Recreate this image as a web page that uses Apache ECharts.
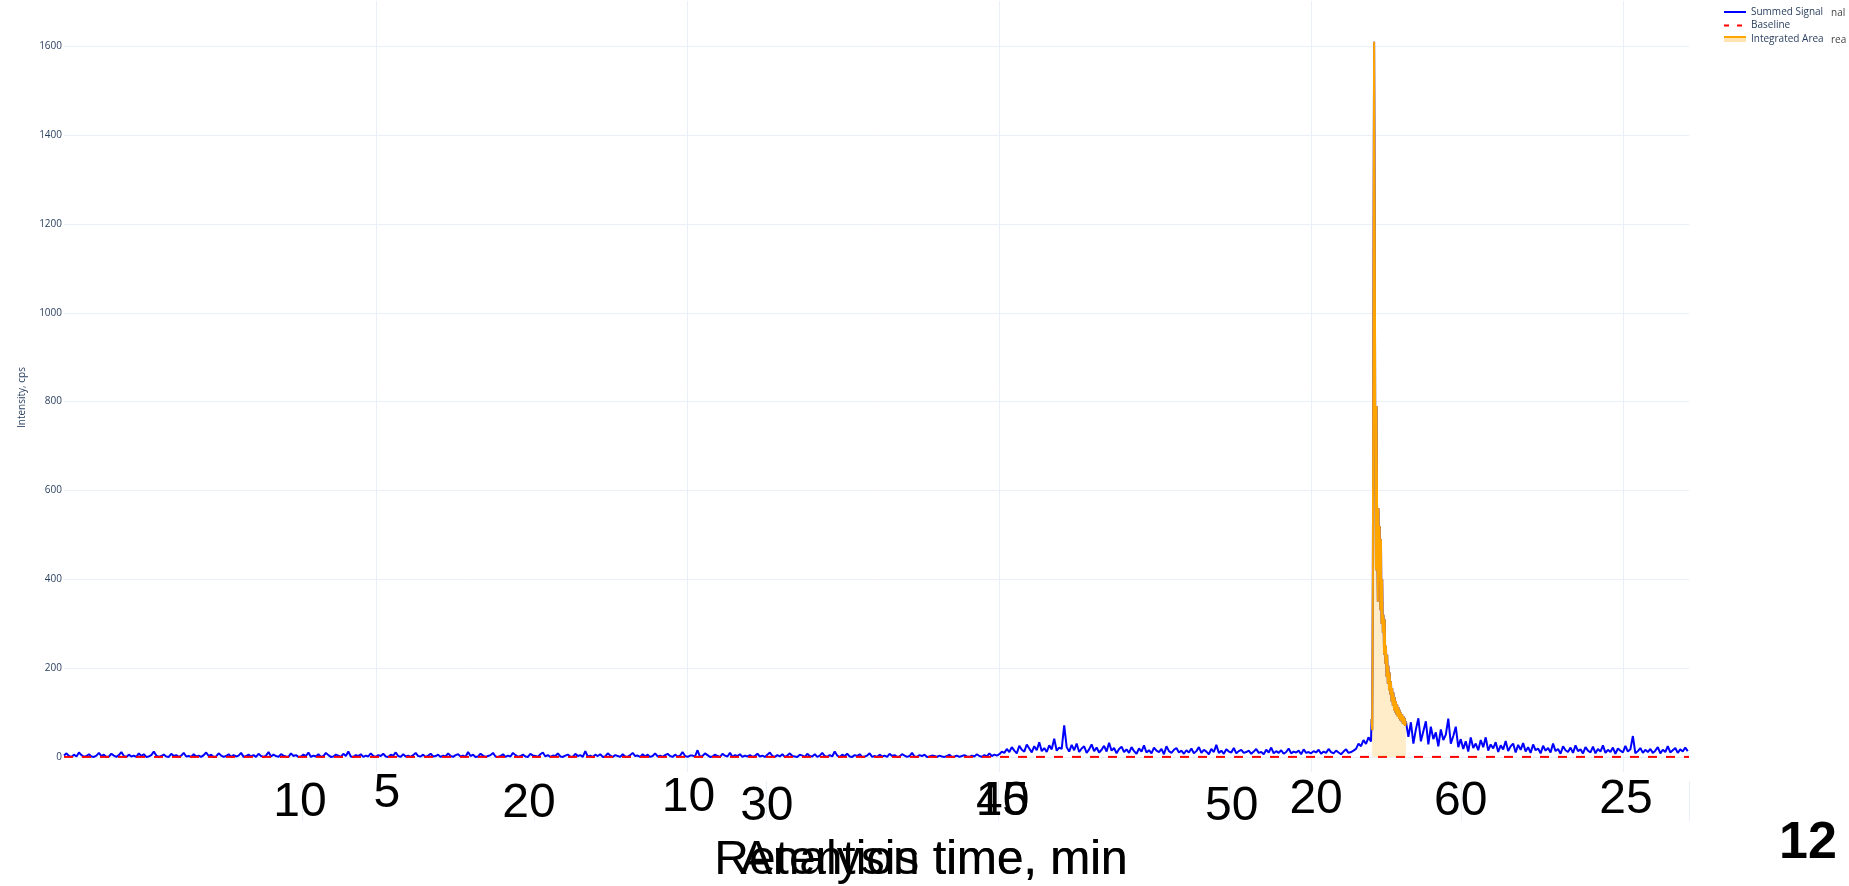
<!DOCTYPE html>
<html>
<head>
<meta charset="utf-8">
<script src="https://cdn.jsdelivr.net/npm/echarts@6/dist/echarts.min.js"></script>
<style>
html,body{margin:0;padding:0;background:#ffffff;}
#chart{width:1849px;height:886px;}
</style>
</head>
<body>
<div id="chart"></div>
<script>
// ---------------- data ----------------
const sampleStep = 0.04;   // min between samples in the noise segments
const peakStep = 0.01;     // min between samples inside the peak

const earlyStart = 0.00;   // 0.00 .. 14.96 min
const earlySignal = [
  3,8,2,0,5,1,10,4,0,2,6,1,0,3,9,2,5,0,1,7,3,0,4,11,2,
  0,5,1,3,0,8,2,6,0,1,4,12,3,0,2,5,1,0,7,2,4,0,3,9,1,
  2,0,6,1,3,0,4,10,2,5,0,1,8,3,0,2,6,0,4,1,3,9,0,2,5,
  1,4,0,7,2,0,3,11,1,5,2,0,6,3,1,0,8,2,4,0,1,5,2,10,0,
  3,1,6,0,2,9,4,0,1,5,3,0,7,2,12,1,0,4,2,6,0,3,1,8,2,
  0,4,2,7,1,0,5,3,10,2,0,6,1,3,0,4,9,2,1,5,0,3,7,1,2,
  5,0,3,1,8,2,0,4,6,1,3,0,11,2,5,0,1,7,3,0,2,4,9,1,0,
  2,6,0,3,1,9,4,0,2,5,1,0,7,3,2,0,6,10,1,4,0,3,2,8,1,
  0,3,5,1,0,7,2,4,0,13,1,3,0,5,2,6,0,1,8,3,0,4,2,0,6,
  1,0,4,9,2,3,0,6,1,5,0,2,8,1,3,0,4,7,2,0,5,1,3,11,2,
  0,3,3,1,15,0,2,8,4,0,1,5,2,0,7,3,1,9,0,4,2,6,0,3,1,
  4,0,2,7,1,3,0,5,10,2,0,4,1,6,0,3,8,2,1,0,5,3,0,7,2,
  1,6,0,3,9,2,0,4,1,12,3,0,5,2,7,1,0,4,2,6,0,1,3,8,0,
  2,0,5,1,3,0,7,2,4,0,1,6,3,0,2,9,1,0,4,2,5,0,1,3,2,
  0,3,1,0,2,5,0,1,3,0,2,4,1,0,3,1,6,2,0,4,1,8,2,5,3
];

const midStart = 15.00;    // 15.00 .. 20.96 min
const midSignal = [
  6,12,9,18,11,22,14,8,25,16,12,28,19,10,24,15,33,13,20,11,26,17,41,14,21,
  18,71,22,12,27,15,30,11,19,24,9,17,28,13,21,10,16,25,12,32,14,20,8,18,23,
  11,17,9,22,13,7,19,12,26,10,15,8,21,14,11,18,6,24,13,9,16,20,10,14,7,
  15,10,19,8,13,22,9,16,12,6,18,11,27,9,14,7,17,12,10,20,8,13,16,9,11,
  14,7,12,18,9,11,6,16,10,21,8,13,9,15,7,11,19,8,12,10,14,6,17,9,11,
  8,13,10,16,7,12,9,18,11,8,14,10,6,12,17,9,11,14,18,30,24,38,29,44,35
];

const peakStart = 20.97;   // 20.97 .. 21.52 min (integrated region)
const peakSignal = [
  85,60,400,1100,1610,1250,620,420,790,480,
  350,560,420,520,330,490,300,400,280,320,
  230,310,210,250,180,230,165,205,150,190,
  140,170,125,155,115,145,105,135,100,125,
  95,118,90,112,86,106,82,100,80,96,
  75,92,72,88,70,80
];

const lateStart = 21.56;   // 21.56 .. 26.04 min
const lateSignal = [
  45,78,30,62,87,35,58,80,28,68,40,55,24,62,38,50,86,30,47,68,22,40,
  18,35,12,44,20,30,15,38,22,44,14,28,19,33,11,26,17,36,13,24,30,10,27,16,31,
  12,22,9,28,15,19,8,25,14,20,10,30,13,18,7,24,15,11,21,9,26,13,17,8,22,
  14,10,23,8,18,12,26,9,16,11,21,7,19,14,10,25,12,17,47,8,13,20,9,16,11,
  18,9,14,22,8,16,11,24,10,15,20,9,17,12,21,13
];

const baselineTimes = [0, 26.06];
const baselineValues = [0, 0];

const retentionRange = [0, 26.06];
const analysisRange = [0, 69.8];
const intensityRange = [-34, 1702];
const retentionTickLabels = [5, 10, 15, 20, 25];
const analysisTickLabels = [10, 20, 30, 40, 50, 60];
const intensityTickLabels = [0, 200, 400, 600, 800, 1000, 1200, 1400, 1600];
const seriesNames = ['Summed Signal', 'Baseline', 'Integrated Area'];

// ---------------- layout / style ----------------
const labelFont = 'Liberation Sans';
const plotlyFont = 'Open Sans';
const gridColor = '#EBF0F8';
const tickColor = '#2a3f5f';
// small per-label nudges [dx, dy] in px seen in the reference
const retentionNudge = {5:[11,-2.5],10:[1,1.5],15:[3,5.5],20:[5,4],25:[3,4]};
const analysisNudge = {10:[-2,-2.5],20:[-5,-1.5],30:[1,1.5],40:[5,-3.5],50:[2,1.5],60:[-1,-3.5]};

function toPairs(start, step, values) {
  return values.map((v, i) => [+(start + i * step).toFixed(2), v]);
}
const signalPairs = [].concat(
  toPairs(earlyStart, sampleStep, earlySignal),
  toPairs(midStart, sampleStep, midSignal),
  toPairs(peakStart, peakStep, peakSignal),
  toPairs(lateStart, sampleStep, lateSignal)
);
const areaPairs = toPairs(peakStart, peakStep, peakSignal);
const baselinePairs = baselineTimes.map((t, i) => [t, baselineValues[i]]);

function buildRich(prefix, labels, nudge) {
  const rich = {};
  labels.forEach(v => {
    const n = nudge[v] || [0, 0];
    const dx = n[0], dy = n[1];
    rich[prefix + v] = {
      fontFamily: labelFont, fontSize: 48, color: '#000',
      lineHeight: 48 + 2 * dy,
      padding: dx >= 0 ? [0, 0, 0, 2 * dx] : [0, -2 * dx, 0, 0]
    };
  });
  return rich;
}

const chart = echarts.init(document.getElementById('chart'), null, {renderer: 'canvas'});

const option = {
  animation: false,
  backgroundColor: '#ffffff',
  grid: [
    {left: 64, right: 160, top: 1, bottom: 114, outerBoundsMode: 'none', containLabel: false},
    {left: 70, right: 160, top: 781, bottom: 65, outerBoundsMode: 'none', containLabel: false}
  ],
  legend: {
    orient: 'vertical',
    left: 1723,
    top: 7,
    padding: 0,
    itemWidth: 22,
    itemHeight: 10,
    itemGap: 3.5,
    selectedMode: false,
    textStyle: {fontFamily: plotlyFont, fontSize: 10, color: tickColor},
    data: [
      {name: seriesNames[0], itemStyle: {opacity: 0}},
      {name: seriesNames[1], itemStyle: {opacity: 0}, lineStyle: {type: [5, 8]}},
      {name: seriesNames[2], icon: 'path://M0,0H22V6H0Z',
        itemStyle: {color: {type: 'linear', x: 0, y: 0, x2: 0, y2: 1, colorStops: [
          {offset: 0, color: '#FFA500'}, {offset: 0.4, color: '#FFA500'},
          {offset: 0.4, color: '#FFE4B2'}, {offset: 1, color: '#FFE4B2'}]}}}
    ]
  },
  xAxis: [
    {
      type: 'value', gridIndex: 0, position: 'bottom',
      min: retentionRange[0], max: retentionRange[1], interval: 5,
      axisLine: {show: false}, axisTick: {show: false},
      splitLine: {show: true, showMinLine: false, showMaxLine: false, lineStyle: {color: gridColor, width: 1}},
      axisLabel: {
        margin: 0,
        fontFamily: labelFont, fontSize: 48, color: '#000',
        formatter: v => retentionTickLabels.includes(v) ? '{r' + v + '|' + v + '}' : '',
        rich: buildRich('r', retentionTickLabels, retentionNudge)
      },
      name: 'Retention time, min',
      nameLocation: 'middle',
      nameGap: 65,
      nameTextStyle: {fontFamily: labelFont, fontSize: 48, color: '#000', lineHeight: 48, padding: [0, 0, 0, 89]}
    },
    {
      type: 'value', gridIndex: 1, position: 'bottom', offset: -40,
      min: analysisRange[0], max: analysisRange[1], interval: 10,
      axisLine: {show: false}, axisTick: {show: false},
      splitLine: {show: true, showMinLine: false, showMaxLine: true, lineStyle: {color: gridColor, width: 1}},
      axisLabel: {
        margin: 0,
        fontFamily: labelFont, fontSize: 48, color: '#000',
        formatter: v => analysisTickLabels.includes(v) ? '{a' + v + '|' + v + '}' : '',
        rich: buildRich('a', analysisTickLabels, analysisNudge)
      },
      name: 'Analysis time, min',
      nameLocation: 'middle',
      nameGap: 56,
      nameTextStyle: {fontFamily: labelFont, fontSize: 48, color: '#000', lineHeight: 48, padding: [0, 0, 0, 109]}
    }
  ],
  yAxis: [
    {
      type: 'value', gridIndex: 0,
      min: intensityRange[0], max: intensityRange[1],
      splitNumber: 9, minInterval: 200, maxInterval: 200,
      axisLine: {show: false}, axisTick: {show: false},
      splitLine: {show: true, showMinLine: false, showMaxLine: false, lineStyle: {color: gridColor, width: 1}},
      axisLabel: {
        margin: 2, fontFamily: plotlyFont, fontSize: 10, color: tickColor,
        showMinLabel: false, showMaxLabel: false,
        formatter: v => intensityTickLabels.includes(v) ? String(v) : ''
      },
      name: 'Intensity, cps',
      nameLocation: 'middle',
      nameGap: 37,
      nameTextStyle: {fontFamily: plotlyFont, fontSize: 10, color: tickColor, padding: [0, 22, 0, 0]}
    },
    {type: 'value', gridIndex: 1, min: 0, max: 1, show: false}
  ],
  series: [
    {
      name: seriesNames[0], type: 'line', xAxisIndex: 0, yAxisIndex: 0,
      data: signalPairs, symbol: 'none', showSymbol: false, silent: true, z: 2,
      lineStyle: {color: '#0000FF', width: 2},
      itemStyle: {color: '#0000FF'}
    },
    {
      name: seriesNames[1], type: 'line', xAxisIndex: 0, yAxisIndex: 0,
      data: baselinePairs, symbol: 'none', showSymbol: false, silent: true, z: 3,
      lineStyle: {color: '#FF0000', width: 2, type: [9, 9]},
      itemStyle: {color: '#FF0000'}
    },
    {
      name: seriesNames[2], type: 'line', xAxisIndex: 0, yAxisIndex: 0,
      data: areaPairs, symbol: 'none', showSymbol: false, silent: true, z: 4,
      lineStyle: {color: '#FFA500', width: 2},
      itemStyle: {color: '#FFA500'},
      areaStyle: {color: 'rgba(255,165,0,0.3)', origin: 0}
    }
  ],
  graphic: [
    {type: 'text', x: 1808, y: 844, silent: true,
      style: {text: '12', fill: '#000', fontSize: 52, fontWeight: 'bold', fontFamily: labelFont, align: 'center', verticalAlign: 'middle'}},
    {type: 'text', x: 1831, y: 13, silent: true,
      style: {text: 'nal', fill: '#444', fontSize: 10, fontFamily: plotlyFont, align: 'left', verticalAlign: 'middle'}},
    {type: 'text', x: 1831, y: 40, silent: true,
      style: {text: 'rea', fill: '#444', fontSize: 10, fontFamily: plotlyFont, align: 'left', verticalAlign: 'middle'}}
  ]
};

chart.setOption(option);
</script>
</body>
</html>
